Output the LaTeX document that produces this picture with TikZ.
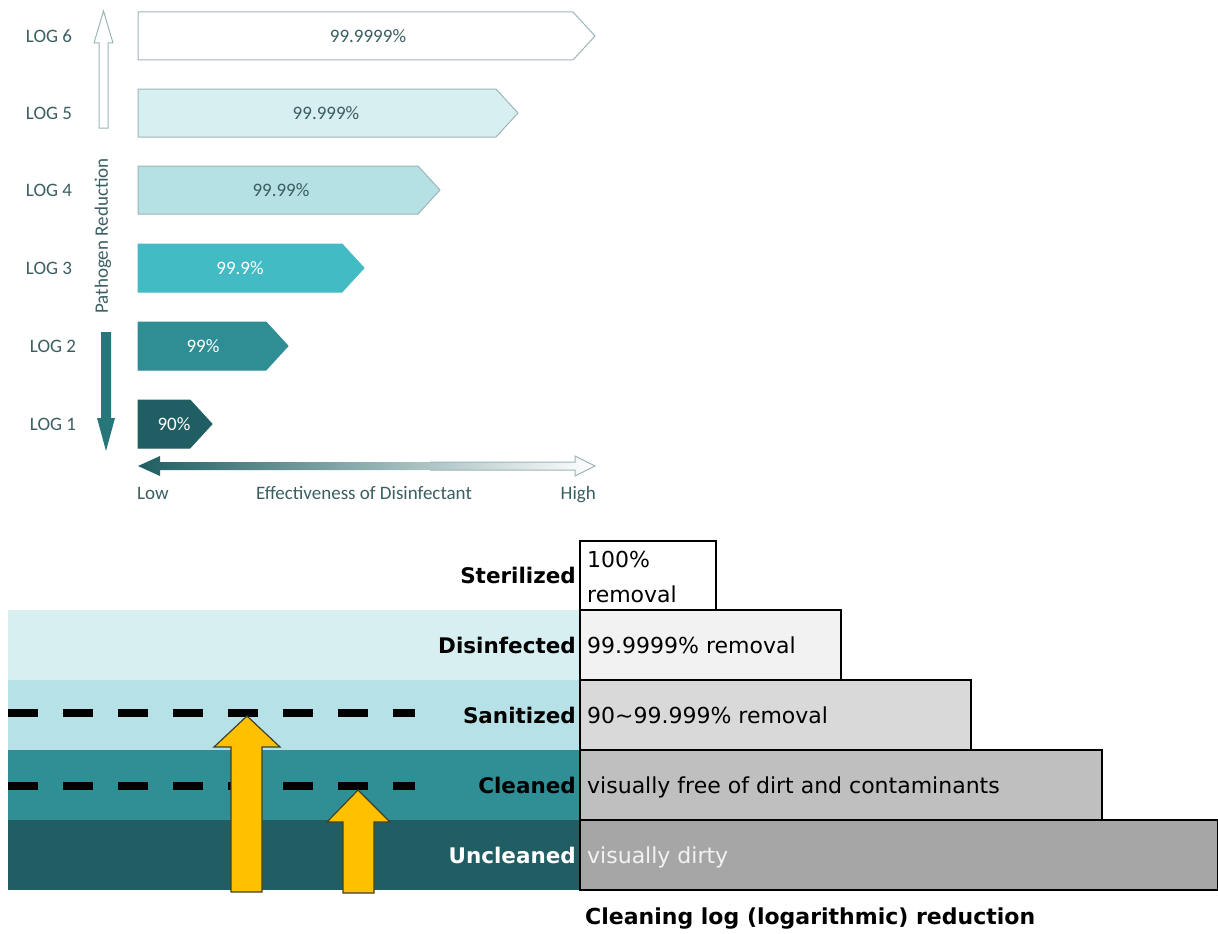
\documentclass[tikz,border=0pt]{standalone}
\usepackage{fontspec}
\setmainfont{DejaVu Sans}
\newfontfamily\calibfont{Carlito}
\usetikzlibrary{arrows.meta}

\definecolor{tealtext}{HTML}{3B5E60}
\definecolor{barline}{HTML}{9DB5B7}
\definecolor{logsix}{HTML}{FFFFFF}
\definecolor{logfive}{HTML}{D8EFF1}
\definecolor{logfour}{HTML}{B5E0E4}
\definecolor{logthree}{HTML}{43BBC5}
\definecolor{logtwo}{HTML}{2F8E93}
\definecolor{logone}{HTML}{1F5E62}
\definecolor{downarrow}{HTML}{26767A}
\definecolor{bandsan}{HTML}{B6E2E7}
\definecolor{bandclean}{HTML}{2F8F95}
\definecolor{banddirt}{HTML}{205E63}
\definecolor{arrowfill}{HTML}{FFC000}
\definecolor{arrowline}{HTML}{40402A}

\begin{document}
\begin{tikzpicture}[x=1pt,y=-1pt]
	\useasboundingbox (0,0) rectangle (1218,934);

	% log bars
	\begin{scope}[every path/.style={draw=barline,line width=1pt}]
		\path[fill=logsix]   (138,12) -- (573,12) -- (595,36) -- (573,60) -- (138,60) -- cycle;
		\path[fill=logfive]  (138,89) -- (496,89) -- (518,113) -- (496,137) -- (138,137) -- cycle;
		\path[fill=logfour]  (138,166) -- (418,166) -- (440,190) -- (418,214) -- (138,214) -- cycle;
		\path[fill=logthree,draw=logthree] (138,244) -- (342,244) -- (364,268) -- (342,292) -- (138,292) -- cycle;
		\path[fill=logtwo,draw=logtwo]     (138,322) -- (266,322) -- (288,346) -- (266,370) -- (138,370) -- cycle;
		\path[fill=logone,draw=logone]     (138,400) -- (190,400) -- (212,424) -- (190,448) -- (138,448) -- cycle;
	\end{scope}

	\begin{scope}[every node/.style={font=\calibfont\fontsize{19}{22}\selectfont,text=tealtext,inner sep=0pt}]
		\node (l6) at (49,36) {LOG 6};
		\node (l5) at (49,113) {LOG 5};
		\node (l4) at (49,190) {LOG 4};
		\node (l3) at (49,268) {LOG 3};
		\node (l2) at (53,346) {LOG 2};
		\node (l1) at (53,424) {LOG 1};
		\node (p6) at (368,36) {99.9999\%};
		\node (p5) at (326,113) {99.999\%};
		\node (p4) at (281,190) {99.99\%};
		\node[text=white] (p3) at (240,268) {99.9\%};
		\node[text=white] (p2) at (203,346) {99\%};
		\node[text=white] (p1) at (174,424) {90\%};
		\node[rotate=90] (pr) at (103,236) {Pathogen Reduction};
		\node[anchor=base west] (lo) at (137,499) {Low};
		\node[anchor=base] (ef) at (364,499) {Effectiveness of Disinfectant};
		\node[anchor=base east] (hi) at (596,499) {High};
	\end{scope}

	% up / down arrows
	\draw[barline,line width=1pt,fill=white] (99,128) -- (99,43) -- (94,43) -- (103.5,11) -- (113,43) -- (108,43) -- (108,128) -- cycle;
	\fill[downarrow] (101,332) -- (111,332) -- (111,418) -- (115,418) -- (106,451) -- (97,418) -- (101,418) -- cycle;

	% effectiveness arrow
	\shade[left color=logone,right color=white]
		(138,466) -- (160,456) -- (160,462) -- (575,462) -- (575,456) -- (595,466) -- (575,476) -- (575,470) -- (160,470) -- (160,476) -- cycle;
	\draw[barline,line width=1pt] (430,462) -- (575,462) -- (575,456) -- (595,466) -- (575,476) -- (575,470) -- (430,470);

	% cleaning levels
	\fill[logfive]   (8,610) rectangle (580,680);
	\fill[bandsan]   (8,680) rectangle (580,750);
	\fill[bandclean] (8,750) rectangle (580,820);
	\fill[banddirt]  (8,820) rectangle (580,890);

	\begin{scope}[every path/.style={draw=black,line width=1.5pt}]
		\path[fill=white]         (580,541) rectangle (716,610);
		\path[fill=black!5]       (580,610) rectangle (841,680);
		\path[fill=black!15]      (580,680) rectangle (971,750);
		\path[fill=black!25]      (580,750) rectangle (1102,820);
		\path[fill=black!35]      (580,820) rectangle (1218,890);
	\end{scope}

	\coordinate (d1s) at (8,713);
	\coordinate (d1e) at (415,713);
	\coordinate (d2s) at (8,786);
	\coordinate (d2e) at (415,786);
	\draw[line width=8pt,dash pattern=on 30pt off 25pt] (d1s) -- (d1e);
	\draw[line width=8pt,dash pattern=on 30pt off 25pt] (d2s) -- (d2e);

	\begin{scope}[every path/.style={fill=arrowfill,draw=arrowline,line width=1.2pt,line join=miter}]
		\path (231,892) -- (231,747) -- (214,747) -- (247,716) -- (280,747) -- (262,747) -- (262,892) -- cycle;
		\path (343,893) -- (343,822) -- (327,822) -- (358,790) -- (390,822) -- (374,822) -- (374,893) -- cycle;
	\end{scope}

	\begin{scope}[every node/.style={font=\fontsize{21.5}{25}\selectfont\bfseries,inner sep=0pt,anchor=base east}]
		\node (st) at (576,583) {Sterilized};
		\node (di) at (576,653) {Disinfected};
		\node (sa) at (576,723) {Sanitized};
		\node (cl) at (576,793) {Cleaned};
		\node[text=white] (un) at (576,863) {Uncleaned};
	\end{scope}

	\begin{scope}[every node/.style={font=\fontsize{22}{26}\selectfont,inner sep=0pt,anchor=base west}]
		\node (s1) at (587,567) {100\%};
		\node (s2) at (587,602) {removal};
		\node (r5) at (587,653) {99.9999\% removal};
		\node (r4) at (587,723) {90\textasciitilde99.999\% removal};
		\node (r2) at (587,793) {visually free of dirt and contaminants};
		\node[text=black!5] (r1) at (587,863) {visually dirty};
	\end{scope}

	\node[font=\fontsize{22}{26}\selectfont\bfseries,inner sep=0pt,anchor=base west] (ti) at (585,924) {Cleaning log (logarithmic) reduction};
\end{tikzpicture}
\end{document}
